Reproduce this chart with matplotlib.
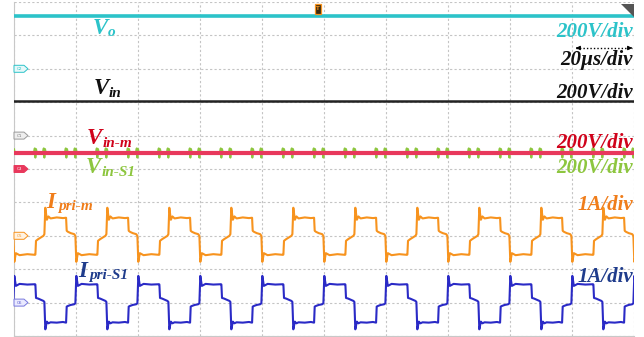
import matplotlib
matplotlib.use("Agg")
import matplotlib.pyplot as plt
from matplotlib.patches import Polygon, Rectangle

plt.rcParams["font.family"] = ["Liberation Serif", "DejaVu Serif"]

# scope scales
T_DIV = 20.0      # us / div
V_DIV = 200.0     # V / div
I_DIV = 1.0       # A / div
T_SW = 20.0       # switching period, us
T_FIRST = 9.8     # first rising edge of i_pri-m on screen, us

# channel ground markers (div above the bottom of the screen)
gnd_vo, gnd_vin, gnd_vin_m, gnd_im, gnd_is1 = 8.0, 6.0, 5.0, 3.0, 1.0

# dc levels (V)
vo = 318.0
vin = 210.0
vin_m = 96.0
vin_s1 = 96.0

# one switching period of the primary currents, time relative to the rising edge (us)
shape_t = [-2.9, -2.7, -2.0, -1.0, -0.3, 0.0, 0.3, 0.8, 1.3, 2.0, 4.0, 6.0, 7.0,
           7.2, 7.6, 8.5, 9.6, 10.0, 10.3, 10.8, 12.0, 14.5, 17.0]
ipri_m = [-0.56, -0.15, -0.10, -0.04, 0.00, 0.05, 0.84, 0.48, 0.58, 0.52, 0.55, 0.53, 0.54,
          0.15, 0.12, 0.08, 0.05, 0.00, -0.78, -0.52, -0.58, -0.55, -0.57]
ipri_s1 = [0.54, 0.14, 0.12, 0.08, 0.05, 0.02, -0.80, -0.57, -0.62, -0.59, -0.60, -0.58, -0.60,
           -0.12, -0.10, -0.07, -0.05, -0.02, 0.80, 0.50, 0.56, 0.54, 0.55]

# switching spikes seen on v_in-S1 (relative to each edge)
edges_rel = [-2.9, 0.0, 7.1, 10.0]
spike_t = [-0.5, -0.2, 0.0, 0.2, 0.5]
spike_v = [0.0, 28.0, -28.0, 24.0, 0.0]

C_CYAN, C_RED, C_GREEN = "#2cc3c9", "#e8385c", "#8dc63f"
C_ORANGE, C_BLUE = "#f7931e", "#2a2ac6"


def px2x(px):
    return (px - 14) / 62.0 * T_DIV


def px2y(py):
    return (336 - py) / 33.4


# build the periodic traces from the single period read above
t_i, y_m, y_s1 = [], [], []
t_g, y_g = [0.0], [gnd_vin_m + vin_s1 / V_DIV]
for k in range(-1, 11):
    for t, a, b in zip(shape_t, ipri_m, ipri_s1):
        tt = T_FIRST + k * T_SW + t
        if -1 <= tt <= 201:
            t_i.append(tt)
            y_m.append(gnd_im + a / I_DIV)
            y_s1.append(gnd_is1 + b / I_DIV)
    for e in edges_rel:
        for st, sv in zip(spike_t, spike_v):
            tt = T_FIRST + k * T_SW + e + st
            if 0 < tt < 200:
                t_g.append(tt)
                y_g.append(gnd_vin_m + (vin_s1 + sv) / V_DIV)
t_g.append(200.0)
y_g.append(gnd_vin_m + vin_s1 / V_DIV)

fig = plt.figure(figsize=(6.44, 3.37), dpi=100)
ax = fig.add_axes([14 / 644, 1 / 337, 620 / 644, 334 / 337])
ax.set_xlim(0, 200)
ax.set_ylim(0, 10)
ax.set_xticks(range(0, 201, 20))
ax.set_yticks(range(0, 11))
ax.tick_params(length=0, labelbottom=False, labelleft=False)
ax.grid(color="#c4c4c4", linestyle=(0, (2, 2)), linewidth=0.8)
for s in ["top", "right"]:
    ax.spines[s].set_visible(False)
for s in ["left", "bottom"]:
    ax.spines[s].set_color("#c8c8c8")
    ax.spines[s].set_linewidth(0.8)

# traces
ax.plot([0, 200], [gnd_vo + vo / V_DIV] * 2, color=C_CYAN, lw=2.6, zorder=3)
ax.plot([0, 200], [gnd_vin + vin / V_DIV] * 2, color="#222222", lw=1.8, zorder=3)
ax.plot(t_g, y_g, color=C_GREEN, lw=1.4, zorder=3)
ax.plot([0, 200], [gnd_vin_m + vin_m / V_DIV] * 2, color=C_RED, lw=3.0, zorder=4)
ax.plot(t_i, y_m, color=C_ORANGE, lw=1.5, zorder=3)
ax.plot(t_i, y_s1, color=C_BLUE, lw=1.5, zorder=3)

# channel markers at the left edge
tags = [(gnd_vo, "C2", "#e6f8f9", C_CYAN, C_CYAN),
        (gnd_vin, "C1", "#eeeeee", "#999999", "#777777"),
        (gnd_vin_m, "C3", C_RED, C_RED, "white"),
        (gnd_im, "C5", "#fff3e3", C_ORANGE, C_ORANGE),
        (gnd_is1, "C6", "#eaeaff", "#7777dd", "#5555cc")]
for g, name, fc, ec, tc in tags:
    yc = 336 - g * 33.4
    pts = [(px2x(14), px2y(yc - 3.5)), (px2x(24), px2y(yc - 3.5)), (px2x(28), px2y(yc)),
           (px2x(24), px2y(yc + 3.5)), (px2x(14), px2y(yc + 3.5))]
    ax.add_patch(Polygon(pts, closed=True, fc=fc, ec=ec, lw=0.7, zorder=5, clip_on=False))
    ax.text(px2x(19.5), g, name, fontsize=3, color=tc, ha="center", va="center",
            family="DejaVu Sans", zorder=6)

# trigger marker and corner flag
ax.add_patch(Rectangle((px2x(315), px2y(14)), px2x(321) - px2x(315), px2y(4) - px2y(14),
                       fc="#3a2a10", ec=C_ORANGE, lw=0.9, zorder=6, clip_on=False))
ax.text(px2x(318), px2y(9), "T", fontsize=4, color=C_ORANGE, ha="center", va="center",
        family="DejaVu Sans", fontweight="bold", zorder=7)
ax.add_patch(Polygon([(px2x(621), px2y(4)), (px2x(634), px2y(4)), (px2x(634), px2y(17))],
                     closed=True, fc="#555555", ec="none", zorder=6, clip_on=False))

# time-base arrow
ya = px2y(48)
ax.plot([px2x(576), px2x(632)], [ya, ya], color="black", lw=1.0, ls=(0, (1, 1.5)), zorder=6)
for x0, x1 in [(px2x(580), px2x(573)), (px2x(628), px2x(635))]:
    ax.annotate("", xy=(x1, ya), xytext=(x0, ya),
                arrowprops=dict(arrowstyle="-|>", color="black", lw=0.8, mutation_scale=6),
                zorder=6, annotation_clip=False)

tk = dict(fontweight="bold", fontstyle="italic", zorder=8)


def name(px, py, main, sub, spx, spy, color):
    ax.text(px2x(px), px2y(py), main, fontsize=16.5, color=color, ha="left", va="baseline", **tk)
    ax.text(px2x(spx), px2y(spy), sub, fontsize=11, color=color, ha="left", va="baseline", **tk)


name(93, 34, "V", "o", 108, 36, C_CYAN)
name(94, 94, "V", "in", 109, 97, "#111111")
name(87, 144, "V", "in-m", 103, 147, "#d0021b")
name(86, 173, "V", "in-S1", 102, 176, C_GREEN)
name(46, 208, "I", "pri-m", 58, 210, "#f07d1a")
name(78, 277, "I", "pri-S1", 89, 279, "#1f3c8c")

scale_lbls = [(37, "200V/div", C_CYAN), (65, "20\u00b5s/div", "#111111"),
              (98, "200V/div", "#111111"), (148, "200V/div", "#d0021b"),
              (173, "200V/div", C_GREEN), (210, "1A/div", "#f07d1a"),
              (282, "1A/div", "#1f3c8c")]
for py, s, c in scale_lbls:
    ax.text(px2x(633), px2y(py), s, fontsize=15, color=c, ha="right", va="baseline", **tk)

fig.savefig("out.png", dpi=100)
